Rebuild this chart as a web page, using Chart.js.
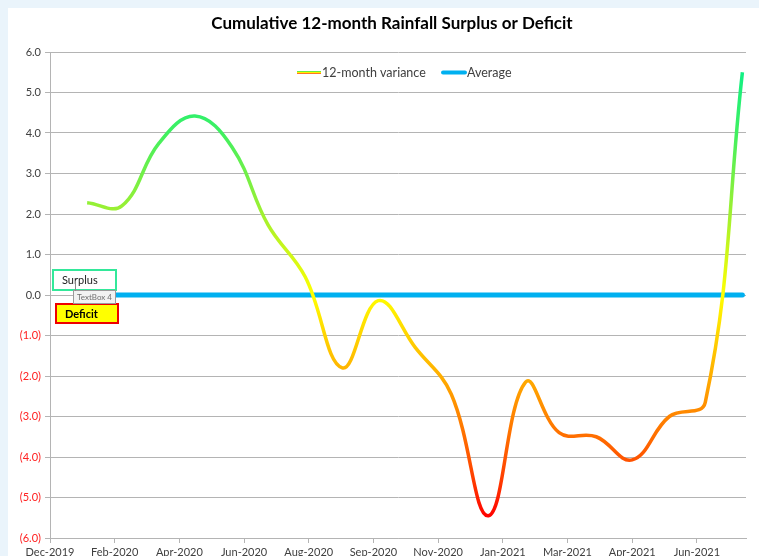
<!DOCTYPE html>
<html>
<head>
<meta charset="utf-8">
<script src="https://cdn.jsdelivr.net/npm/chart.js@4.4.0/dist/chart.umd.min.js"></script>
<style>
    body { margin: 0; background: #eaf4fb; width: 759px; height: 556px; overflow: hidden; }
    #wrap { position: absolute; left: 8px; top: 8px; width: 751px; height: 548px; overflow: hidden; background: #fff; }
</style>
</head>
<body>
<div id="wrap"><canvas id="rainChart" width="751" height="575"></canvas></div>
<script>
// 월말 날짜 (데이터 지점)
const monthEnds = [
    '2020-01-31', '2020-02-29', '2020-03-31', '2020-04-30', '2020-05-31', '2020-06-30',
    '2020-07-31', '2020-08-31', '2020-09-30', '2020-10-31', '2020-11-30', '2020-12-31',
    '2021-01-31', '2021-02-28', '2021-03-31', '2021-04-30', '2021-05-31', '2021-06-30',
    '2021-07-31'
];
// 12개월 누적 강수 편차
const variance = [
    2.28, 2.2, 3.75, 4.42, 3.65, 1.73,
    0.45, -1.8, -0.14, -1.3, -2.45, -5.45,
    -2.15, -3.4, -3.5, -4.07, -3.0, -2.65,
    5.5
];
// 평균선 (0)
const average = [0, 0, 0, 0, 0, 0, 0, 0, 0, 0, 0, 0, 0, 0, 0, 0, 0, 0, 0];

// X축 눈금 레이블
const tickLabels = [
    'Dec-2019', 'Feb-2020', 'Apr-2020', 'Jun-2020', 'Aug-2020', 'Sep-2020',
    'Nov-2020', 'Jan-2021', 'Mar-2021', 'Apr-2021', 'Jun-2021'
];
const axisStart = '2019-12-31';
const tickStepDays = 54;
const axisEndDays = 581;

// Y축 범위
const yMin = -6;
const yMax = 6;

const chartTitle = 'Cumulative 12-month Rainfall Surplus or Deficit';

function dayNumber(s) {
    return (Date.parse(s) - Date.parse(axisStart)) / 86400000;
}

const varianceData = monthEnds.map((d, i) => ({ x: dayNumber(d), y: variance[i] }));
const averageData = monthEnds.map((d, i) => ({ x: dayNumber(d), y: average[i] }));

// 값에 따른 색상 (위: 초록, 0: 노랑, 아래: 빨강)
const colourStops = [
    [6, '#00f090'], [4, '#40f060'], [2, '#a0f030'], [0, '#ffff00'],
    [-1, '#ffd400'], [-2, '#ffae00'], [-3, '#ff8400'], [-4.5, '#ff4000'], [-5.5, '#ff0000'], [-6, '#ff0000']
];

function varianceColour(context) {
    const chart = context.chart;
    const area = chart.chartArea;
    if (!area) return '#ffff00';
    const y = chart.scales.y;
    const top = y.getPixelForValue(yMax);
    const bottom = y.getPixelForValue(yMin);
    const g = chart.ctx.createLinearGradient(0, top, 0, bottom);
    colourStops.forEach(([v, c]) => g.addColorStop((yMax - v) / (yMax - yMin), c));
    return g;
}

// 제목, 범례, 텍스트 상자
const overlayPlugin = {
    id: 'overlay',
    afterDatasetsDraw(chart) {
        const ctx = chart.ctx;
        ctx.save();
        // 제목
        ctx.fillStyle = '#000';
        ctx.font = 'bold 17px Lato';
        ctx.textAlign = 'center';
        ctx.textBaseline = 'middle';
        ctx.fillText(chartTitle, 384, 16);
        ctx.textAlign = 'left';

        // 범례
        const ly = 64;
        ctx.lineWidth = 1;
        [['#66ee44', -1], ['#ffee00', 0], ['#ff7722', 1]].forEach(([c, off]) => {
            ctx.strokeStyle = c;
            ctx.beginPath();
            ctx.moveTo(289, ly + off + 0.5);
            ctx.lineTo(313, ly + off + 0.5);
            ctx.stroke();
        });
        ctx.strokeStyle = '#00b0f0';
        ctx.lineWidth = 4;
        ctx.lineCap = 'round';
        ctx.beginPath();
        ctx.moveTo(435, ly + 0.5);
        ctx.lineTo(457, ly + 0.5);
        ctx.stroke();
        ctx.fillStyle = '#404040';
        ctx.font = '12.5px Lato';
        ctx.fillText('12-month variance', 314, ly + 1);
        ctx.fillText('Average', 459, ly + 1);

        // Surplus 상자
        ctx.lineCap = 'butt';
        ctx.fillStyle = '#fff';
        ctx.fillRect(45, 262, 63, 20);
        ctx.strokeStyle = '#33e89a';
        ctx.lineWidth = 2;
        ctx.strokeRect(45, 262, 63, 20);
        ctx.fillStyle = '#222';
        ctx.font = '11px Lato';
        ctx.fillText('Surplus', 54, 272);

        // Deficit 상자
        ctx.fillStyle = '#ffff00';
        ctx.fillRect(48, 296, 62, 19);
        ctx.strokeStyle = '#ee0000';
        ctx.strokeRect(48, 296, 62, 19);
        ctx.fillStyle = '#000';
        ctx.font = 'bold 11px Lato';
        ctx.fillText('Deficit', 57, 306);

        // TextBox 4 표시
        ctx.fillStyle = '#f2f2f2';
        ctx.fillRect(65.5, 282.5, 42, 13);
        ctx.strokeStyle = '#9a9a9a';
        ctx.lineWidth = 1;
        ctx.strokeRect(65.5, 282.5, 42, 13);
        ctx.fillStyle = '#707070';
        ctx.font = '8px Lato';
        ctx.fillText('TextBox 4', 69, 289.5);
        ctx.strokeStyle = '#888';
        ctx.beginPath();
        ctx.moveTo(67.5, 273);
        ctx.lineTo(67.5, 283);
        ctx.stroke();
        ctx.restore();
    }
};

const ctx = document.getElementById('rainChart').getContext('2d');
new Chart(ctx, {
    type: 'line',
    data: {
        datasets: [
            {
                label: '12-month variance',
                data: varianceData,
                borderColor: varianceColour,
                borderWidth: 3.5,
                pointRadius: 0,
                tension: 0.4,
                fill: false
            },
            {
                label: 'Average',
                data: averageData,
                borderColor: '#00b0f0',
                borderWidth: 5,
                borderCapStyle: 'round',
                pointRadius: 0,
                tension: 0,
                fill: false
            }
        ]
    },
    options: {
        responsive: false,
        animation: false,
        layout: { padding: { left: 0, right: 13, top: 44, bottom: 0 } },
        plugins: {
            legend: { display: false },
            tooltip: { enabled: false },
            title: { display: false }
        },
        scales: {
            x: {
                type: 'linear',
                min: 0,
                max: axisEndDays,
                afterBuildTicks: (scale) => {
                    scale.ticks = tickLabels.map((l, i) => ({ value: i * tickStepDays }));
                },
                afterFit: (scale) => { scale.height = 45; },
                ticks: {
                    autoSkip: false,
                    maxRotation: 0,
                    color: '#404040',
                    font: { family: 'Lato', size: 11 },
                    padding: 3,
                    callback: (v, i) => tickLabels[i]
                },
                grid: { drawOnChartArea: false, drawTicks: true, tickLength: 5, color: '#b4b4b4' },
                border: { color: '#b4b4b4', width: 1 }
            },
            y: {
                min: yMin,
                max: yMax,
                afterFit: (scale) => { scale.width = 42; },
                ticks: {
                    stepSize: 1,
                    color: (c) => (c.tick.value < 0 ? '#ff2020' : '#404040'),
                    font: { family: 'Lato', size: 11 },
                    padding: 4,
                    callback: (v) => (v < 0 ? '(' + Math.abs(v).toFixed(1) + ')' : v.toFixed(1))
                },
                grid: { color: '#b4b4b4', tickLength: 5 },
                border: { color: '#b4b4b4', width: 1 }
            }
        }
    },
    plugins: [overlayPlugin]
});
</script>
</body>
</html>
